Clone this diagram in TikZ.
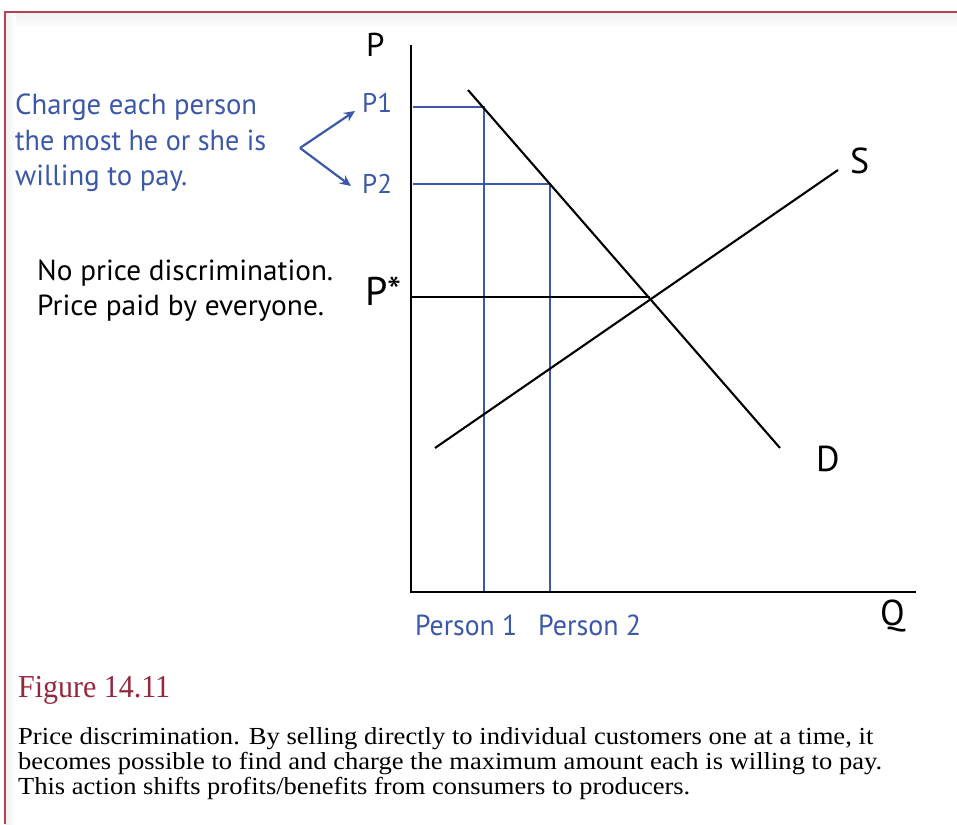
\documentclass[tikz,border=0pt]{standalone}
\usepackage{fontspec}
\usepackage{graphicx}
\setmainfont{Liberation Serif}
\newfontfamily\myr{PT Sans}
\usetikzlibrary{arrows.meta}
\definecolor{myblue}{RGB}{60,88,168}
\definecolor{framered}{RGB}{180,64,84}
\definecolor{figred}{RGB}{150,40,62}
\newcommand\fitw[2]{\resizebox{#1pt}{\height}{#2}}
\begin{document}
\begin{tikzpicture}[x=1pt,y=-1pt,
  lbl/.style={inner sep=0pt,anchor=base west},
  bluetxt/.style={lbl,text=myblue,font=\myr\fontsize{29}{34}\selectfont},
  blacktxt/.style={lbl,text=black,font=\myr\fontsize{29}{34}\selectfont},
  axlbl/.style={lbl,text=black,font=\myr\fontsize{36}{42}\selectfont},
  captxt/.style={lbl,text=black,font=\fontsize{24.5}{27}\selectfont},
  axisline/.style={line width=2.8pt,line cap=rect},
  curveline/.style={line width=2.1pt},
  guideline/.style={line width=2.1pt,draw=myblue},
  arr/.style={line width=2.2pt,draw=myblue,-{Stealth[length=11pt,width=10pt]}}]
\useasboundingbox (0,0) rectangle (957,824);
\fill[white] (0,0) rectangle (957,824);
% frame with soft shadow
\shade[top color=black!6,bottom color=white] (5,12) rectangle (957,28);
\shade[left color=black!6,right color=white] (5,12) rectangle (16,824);
\draw[framered,line width=1.6pt] (5,824) -- (5,12) -- (957,12);

% coordinates
\coordinate (Ptop) at (411,46);
\coordinate (O) at (411,592);
\coordinate (Qend) at (915,592);
\coordinate (D1) at (468,90);
\coordinate (D2) at (780,448);
\coordinate (S1) at (435,448);
\coordinate (S2) at (838,170);
\coordinate (p1a) at (413,107);
\coordinate (p1b) at (484,107);
\coordinate (p1c) at (484,592);
\coordinate (p2a) at (413,184);
\coordinate (p2b) at (550,184);
\coordinate (p2c) at (550,592);
\coordinate (psa) at (411,297);
\coordinate (psb) at (650,297);
\coordinate (V) at (300,148);
\coordinate (A1) at (355,111);
\coordinate (A2) at (351,186);

% guide lines
\draw[guideline] (p1a) -- (p1b) -- (p1c);
\draw[guideline] (p2a) -- (p2b) -- (p2c);
\draw[curveline] (psa) -- (psb);
% curves
\draw[curveline] (D1) -- (D2);
\draw[curveline] (S1) -- (S2);
% axes
\draw[axisline] (Ptop) -- (O) -- (Qend);
% arrows
\draw[arr] (V) -- (A1);
\draw[arr] (V) -- (A2);

% labels
\node[axlbl,font=\myr\fontsize{33}{38}\selectfont] (lP) at (366,57) {P};
\node[axlbl,font=\myr\fontsize{40}{46}\selectfont] (lPs) at (365,305) {P*};
\node[axlbl] (lQ) at (880,625) {Q};
\node[axlbl] (lS) at (850,173) {S};
\node[axlbl] (lD) at (816,471) {D};
\node[bluetxt,font=\myr\fontsize{27}{32}\selectfont] (lP1) at (362,113) {P1};
\node[bluetxt,font=\myr\fontsize{27}{32}\selectfont] (lP2) at (362,193) {P2};
\node[bluetxt] (per1) at (415,635) {\fitw{102}{Person 1}};
\node[bluetxt] (per2) at (538,635) {\fitw{103}{Person 2}};

\node[bluetxt] (b1) at (15,115) {\fitw{242}{Charge each person}};
\node[bluetxt] (b2) at (15,150) {\fitw{251}{the most he or she is}};
\node[bluetxt] (b3) at (15,185) {\fitw{172}{willing to pay.}};

\node[blacktxt] (n1) at (37,280) {\fitw{296}{No price discrimination.}};
\node[blacktxt] (n2) at (37,315) {\fitw{287}{Price paid by everyone.}};

\node[lbl,text=figred,font=\fontsize{32}{36}\selectfont] (fig) at (18,697) {\fitw{152}{Figure 14.11}};
\node[captxt] (c1) at (18,744) {\fitw{855}{Price discrimination. By selling directly to individual customers one at a time, it}};
\node[captxt] (c2) at (18,769) {\fitw{864}{becomes possible to find and charge the maximum amount each is willing to pay.}};
\node[captxt] (c3) at (18,794) {\fitw{672}{This action shifts profits/benefits from consumers to producers.}};
\end{tikzpicture}
\end{document}
